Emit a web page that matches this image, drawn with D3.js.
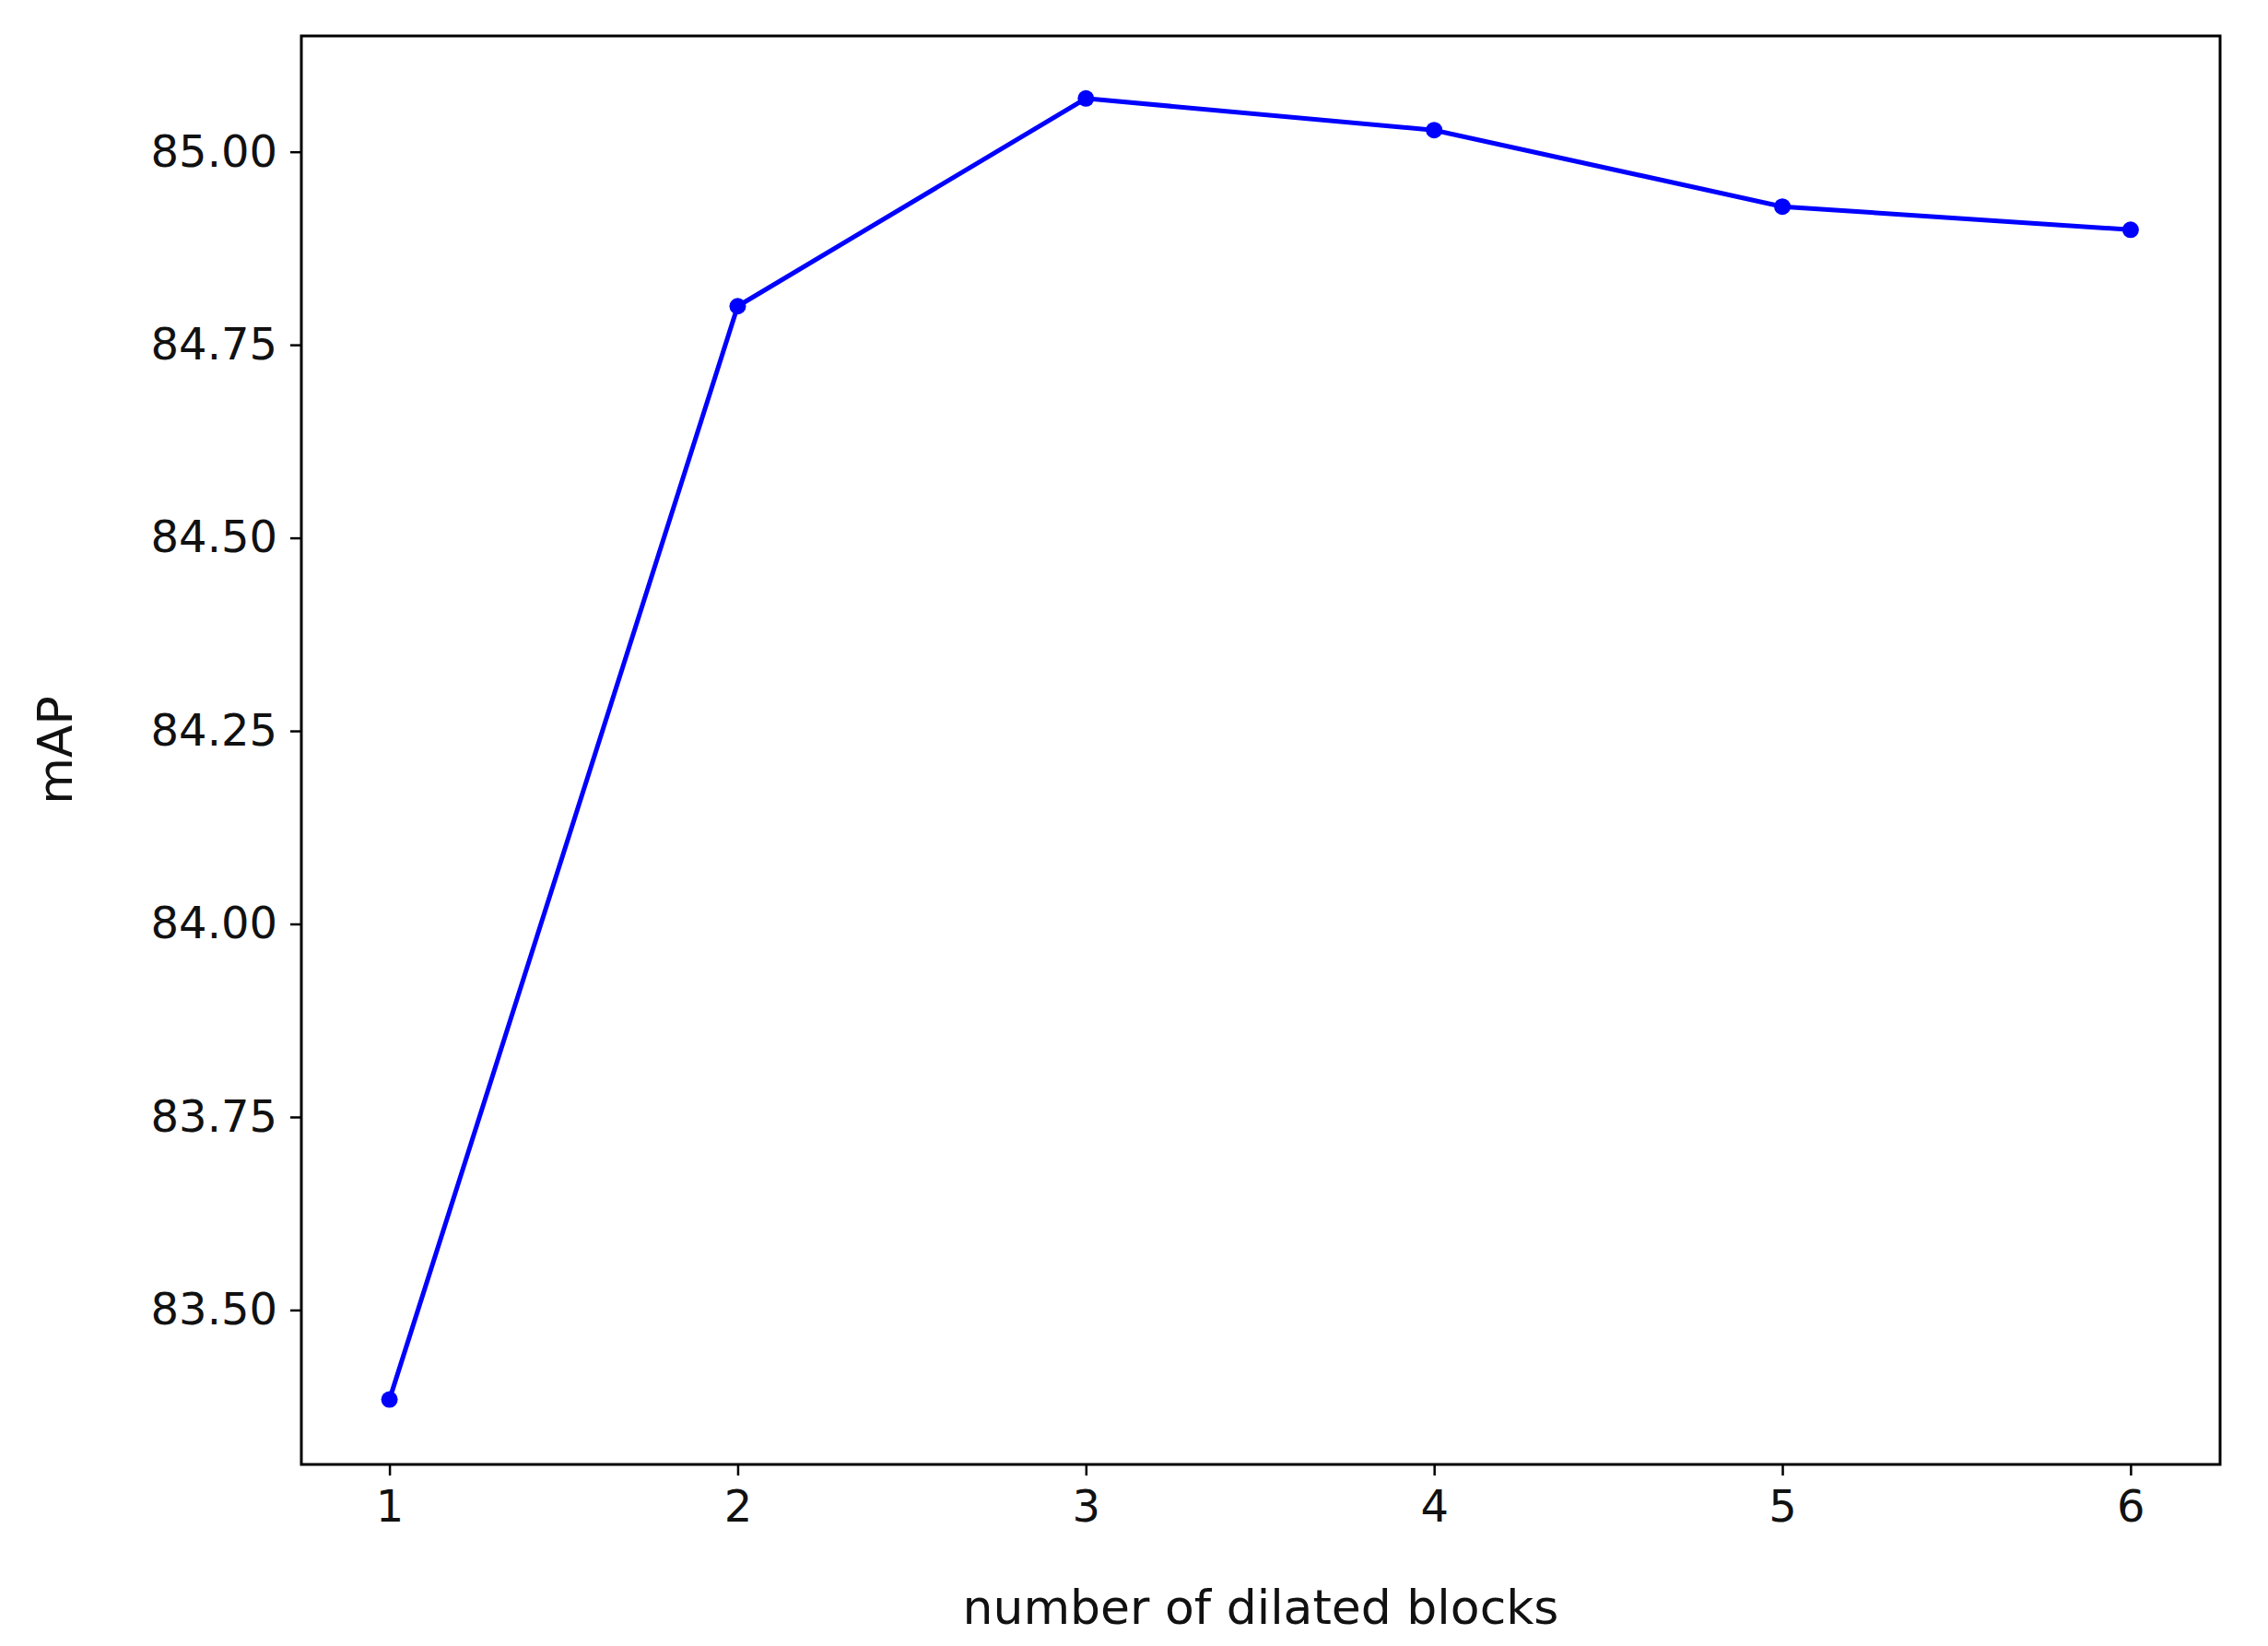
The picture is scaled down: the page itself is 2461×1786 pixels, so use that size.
<!DOCTYPE html>
<html><head><meta charset="utf-8">
<script src="https://cdn.jsdelivr.net/npm/d3@7"></script>
<style>body{margin:0;background:#fff}</style>
</head><body>
<svg id="c" width="2461" height="1786"></svg>
<script>
const xValues = [1, 2, 3, 4, 5, 6];
const mapValues = [83.384, 84.80, 85.069, 85.028, 84.929, 84.899];
const yTicks = [83.50, 83.75, 84.00, 84.25, 84.50, 84.75, 85.00];
const xLabel = "number of dilated blocks";
const yLabel = "mAP";

const svg = d3.select("#c");
const L = 327, R = 2409, T = 39, B = 1589;
const x = d3.scaleLinear().domain([0.747, 6.257]).range([L, R]);
const y = d3.scaleLinear().domain([83.30, 85.15]).range([B, T]);
const font = "DejaVu Sans, sans-serif";

const gx = svg.append("g").attr("transform", `translate(0,${B})`)
  .call(d3.axisBottom(x).tickValues(xValues).tickFormat(d3.format("d")).tickSize(12).tickPadding(16));
const gy = svg.append("g").attr("transform", `translate(${L},0)`)
  .call(d3.axisLeft(y).tickValues(yTicks).tickFormat(d3.format(".2f")).tickSize(12).tickPadding(14));
[gx, gy].forEach(g => {
  g.select(".domain").remove();
  g.selectAll("line").attr("stroke", "#000").attr("stroke-width", 2.5);
  g.selectAll("text").attr("font-family", font).attr("font-size", 48).attr("fill", "#111");
});
svg.append("rect").attr("x", L).attr("y", T).attr("width", R - L).attr("height", B - T)
  .attr("fill", "none").attr("stroke", "#000").attr("stroke-width", 3);

const line = d3.line().x((d, i) => x(xValues[i])).y(d => y(d));
svg.append("path").datum(mapValues).attr("d", line).attr("fill", "none")
  .attr("stroke", "#0000ff").attr("stroke-width", 5);
svg.selectAll("circle.p").data(mapValues).enter().append("circle")
  .attr("cx", (d, i) => x(xValues[i])).attr("cy", d => y(d)).attr("r", 9).attr("fill", "#0000ff");

svg.append("text").attr("x", (L + R) / 2).attr("y", 1762).attr("text-anchor", "middle")
  .attr("font-family", font).attr("font-size", 52).attr("fill", "#111").text(xLabel);
svg.append("text").attr("transform", `translate(78,${(T + B) / 2}) rotate(-90)`).attr("text-anchor", "middle")
  .attr("font-family", font).attr("font-size", 52).attr("fill", "#111").text(yLabel);
</script>
</body></html>
